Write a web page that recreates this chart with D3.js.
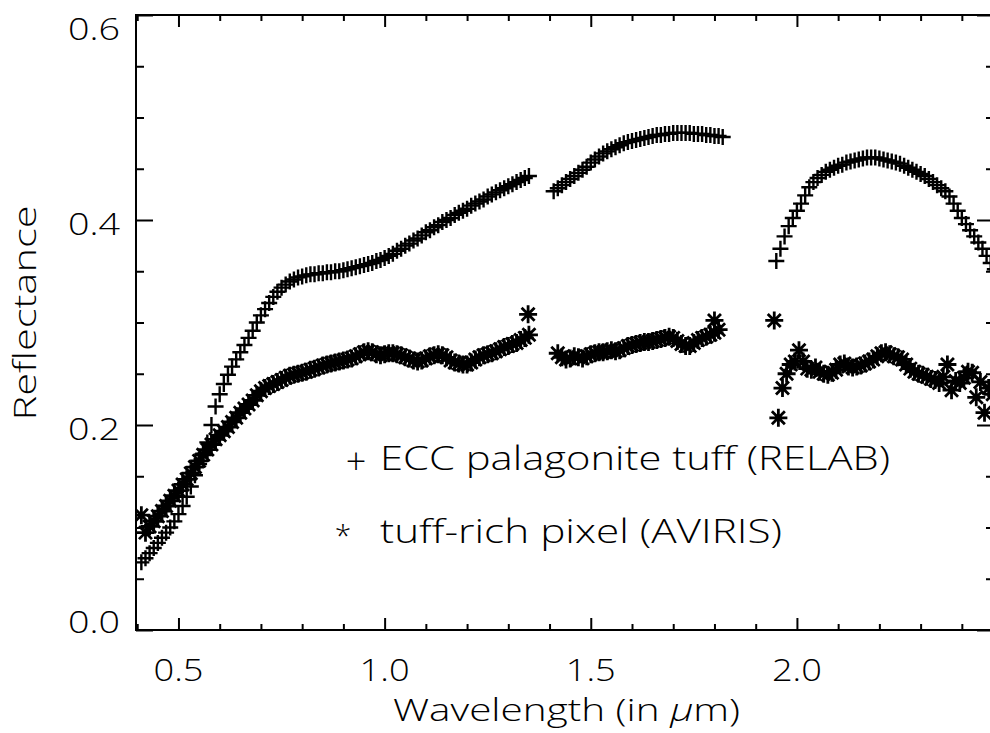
<!DOCTYPE html>
<html><head><meta charset="utf-8">
<script src="https://cdn.jsdelivr.net/npm/d3@7"></script>
<style>
body{margin:0;background:#fff}
svg{display:block}
text{font-family:'Open Sans',sans-serif;font-weight:300;fill:#000}
</style>
</head><body>
<svg id="c" width="990" height="733"></svg>
<script>
// ---- data (wavelength in µm, reflectance) ----
const relab1 = [[0.41,.066],[0.42,.070],[0.43,.075],[0.44,.080],[0.45,.085],[0.46,.090],[0.47,.095],[0.48,.100],[0.49,.106],[0.50,.113],[0.51,.121],[0.52,.130],[0.53,.140],[0.54,.151],[0.55,.162],[0.56,.172],[0.57,.183],[0.58,.200],[0.59,.218],[0.60,.230],[0.61,.240],[0.62,.249],[0.63,.257],[0.64,.264],[0.65,.271],[0.66,.278],[0.67,.285],[0.68,.292],[0.69,.300],[0.70,.307],[0.71,.313],[0.72,.319],[0.73,.325],[0.74,.330],[0.75,.334],[0.76,.337],[0.77,.340],[0.78,.342],[0.79,.344],[0.80,.345],[0.81,.346],[0.82,.347],[0.83,.347],[0.84,.348],[0.85,.348],[0.86,.349],[0.87,.349],[0.88,.350],[0.89,.350],[0.90,.351],[0.91,.352],[0.92,.353],[0.93,.354],[0.94,.355],[0.95,.356],[0.96,.357],[0.97,.358],[0.98,.360],[0.99,.361],[1.00,.363],[1.01,.365],[1.02,.367],[1.03,.370],[1.04,.372],[1.05,.375],[1.06,.377],[1.07,.380],[1.08,.382],[1.09,.385],[1.10,.388],[1.11,.390],[1.12,.393],[1.13,.395],[1.14,.398],[1.15,.400],[1.16,.402],[1.17,.405],[1.18,.407],[1.19,.409],[1.20,.411],[1.21,.414],[1.22,.416],[1.23,.418],[1.24,.420],[1.25,.423],[1.26,.425],[1.27,.427],[1.28,.429],[1.29,.431],[1.30,.433],[1.31,.435],[1.32,.437],[1.33,.439],[1.34,.441],[1.35,.443]];
const relab2 = [[1.41,.428],[1.42,.431],[1.43,.434],[1.44,.437],[1.45,.440],[1.46,.443],[1.47,.446],[1.48,.449],[1.49,.452],[1.50,.456],[1.51,.459],[1.52,.462],[1.53,.465],[1.54,.467],[1.55,.469],[1.56,.471],[1.57,.473],[1.58,.475],[1.59,.476],[1.60,.477],[1.61,.478],[1.62,.479],[1.63,.480],[1.64,.481],[1.65,.482],[1.66,.483],[1.67,.483],[1.68,.484],[1.69,.484],[1.70,.485],[1.71,.485],[1.72,.485],[1.73,.485],[1.74,.485],[1.75,.484],[1.76,.484],[1.77,.484],[1.78,.483],[1.79,.483],[1.80,.482],[1.81,.482],[1.82,.481]];
const relab3 = [[1.95,.360],[1.96,.372],[1.97,.384],[1.98,.394],[1.99,.402],[2.00,.409],[2.01,.416],[2.02,.424],[2.03,.432],[2.04,.437],[2.05,.441],[2.06,.444],[2.07,.447],[2.08,.449],[2.09,.451],[2.10,.453],[2.11,.454],[2.12,.456],[2.13,.457],[2.14,.458],[2.15,.459],[2.16,.460],[2.17,.461],[2.18,.461],[2.19,.461],[2.20,.460],[2.21,.459],[2.22,.458],[2.23,.457],[2.24,.456],[2.25,.455],[2.26,.453],[2.27,.451],[2.28,.449],[2.29,.447],[2.30,.445],[2.31,.443],[2.32,.440],[2.33,.437],[2.34,.434],[2.35,.431],[2.36,.428],[2.37,.423],[2.38,.416],[2.39,.409],[2.40,.402],[2.41,.396],[2.42,.390],[2.43,.384],[2.44,.378],[2.45,.372],[2.46,.365],[2.47,.358],[2.48,.352]];
const aviris1 = [[0.41,.112],[0.42,.095],[0.43,.101],[0.44,.106],[0.45,.111],[0.46,.116],[0.47,.121],[0.48,.126],[0.49,.131],[0.50,.136],[0.51,.142],[0.52,.147],[0.53,.153],[0.54,.159],[0.55,.165],[0.56,.171],[0.57,.176],[0.58,.181],[0.59,.186],[0.60,.190],[0.61,.194],[0.62,.198],[0.63,.203],[0.64,.207],[0.65,.212],[0.66,.216],[0.67,.220],[0.68,.224],[0.69,.229],[0.70,.233],[0.71,.236],[0.72,.238],[0.73,.240],[0.74,.242],[0.75,.244],[0.76,.246],[0.77,.248],[0.78,.249],[0.79,.250],[0.80,.251],[0.81,.252],[0.82,.254],[0.83,.255],[0.84,.256],[0.85,.258],[0.86,.259],[0.87,.260],[0.88,.261],[0.89,.262],[0.90,.263],[0.91,.264],[0.92,.265],[0.93,.267],[0.94,.269],[0.95,.271],[0.96,.272],[0.97,.271],[0.98,.269],[0.99,.268],[1.00,.269],[1.01,.270],[1.02,.270],[1.03,.269],[1.04,.268],[1.05,.266],[1.06,.265],[1.07,.263],[1.08,.262],[1.09,.263],[1.10,.265],[1.11,.267],[1.12,.268],[1.13,.269],[1.14,.268],[1.15,.266],[1.16,.263],[1.17,.261],[1.18,.260],[1.19,.259],[1.20,.259],[1.21,.261],[1.22,.264],[1.23,.266],[1.24,.268],[1.25,.269],[1.26,.270],[1.27,.272],[1.28,.274],[1.29,.276],[1.30,.277],[1.31,.279],[1.32,.280],[1.33,.283],[1.34,.285],[1.35,.288],[1.348,.308]];
const aviris2 = [[1.42,.270],[1.43,.266],[1.44,.264],[1.45,.265],[1.46,.267],[1.47,.266],[1.48,.265],[1.49,.267],[1.50,.269],[1.51,.270],[1.52,.271],[1.53,.271],[1.54,.272],[1.55,.273],[1.56,.272],[1.57,.273],[1.58,.275],[1.59,.277],[1.60,.278],[1.61,.279],[1.62,.280],[1.63,.281],[1.64,.281],[1.65,.282],[1.66,.283],[1.67,.284],[1.68,.285],[1.69,.286],[1.70,.285],[1.71,.282],[1.72,.279],[1.73,.277],[1.74,.277],[1.75,.280],[1.76,.283],[1.77,.285],[1.78,.286],[1.79,.288],[1.80,.290],[1.81,.293],[1.80,.302]];
const aviris3 = [[1.945,.302],[1.955,.207],[1.965,.236],[1.975,.250],[1.985,.259],[1.995,.262],[2.005,.273],[2.015,.262],[2.025,.255],[2.035,.254],[2.045,.256],[2.055,.252],[2.065,.250],[2.075,.249],[2.085,.251],[2.095,.254],[2.105,.259],[2.115,.260],[2.125,.257],[2.135,.256],[2.145,.257],[2.155,.258],[2.165,.260],[2.175,.262],[2.185,.264],[2.195,.267],[2.205,.270],[2.215,.271],[2.225,.269],[2.235,.267],[2.245,.266],[2.255,.264],[2.265,.259],[2.275,.255],[2.285,.252],[2.295,.250],[2.305,.249],[2.315,.247],[2.325,.245],[2.335,.244],[2.345,.241],[2.355,.247],[2.365,.259],[2.375,.234],[2.385,.243],[2.395,.241],[2.405,.246],[2.415,.252],[2.425,.251],[2.435,.227],[2.445,.242],[2.455,.212],[2.465,.236],[2.475,.230]];

const xMajor = [0.5, 1.0, 1.5, 2.0];
const xMinor = [0.4,0.6,0.7,0.8,0.9,1.1,1.2,1.3,1.4,1.6,1.7,1.8,1.9,2.1,2.2,2.3,2.4];
const xLabels = ["0.5","1.0","1.5","2.0"];
const yMajor = [0.0, 0.2, 0.4, 0.6];
const yMinor = [0.05,0.1,0.15,0.25,0.3,0.35,0.45,0.5,0.55];
const yLabels = ["0.0","0.2","0.4","0.6"];
const legendLabels = ["ECC palagonite tuff (RELAB)", "tuff-rich pixel (AVIRIS)"];

// ---- layout ----
const L = 136, R = 994, T = 15, B = 630;
const svg = d3.select("#c");
const x = d3.scaleLinear().domain([0.397, 2.478]).range([L, R]);
const y = d3.scaleLinear().domain([0, 0.6]).range([B, T]);

svg.append("defs").append("clipPath").attr("id","clip")
  .append("rect").attr("x",L).attr("y",T).attr("width",R-L).attr("height",B-T);

// axes ticks (inward)
function styleAxis(g){ g.select(".domain").remove(); g.selectAll("line").attr("stroke","#000").attr("stroke-width",2); g.selectAll("text").remove(); }
svg.append("g").attr("transform",`translate(0,${B})`).call(d3.axisBottom(x).tickValues(xMajor).tickSize(-12)).call(styleAxis);
svg.append("g").attr("transform",`translate(0,${B})`).call(d3.axisBottom(x).tickValues(xMinor).tickSize(-6)).call(styleAxis);
svg.append("g").attr("transform",`translate(0,${T})`).call(d3.axisTop(x).tickValues(xMajor).tickSize(-12)).call(styleAxis);
svg.append("g").attr("transform",`translate(0,${T})`).call(d3.axisTop(x).tickValues(xMinor).tickSize(-6)).call(styleAxis);
svg.append("g").attr("transform",`translate(${L},0)`).call(d3.axisLeft(y).tickValues(yMajor).tickSize(-17)).call(styleAxis);
svg.append("g").attr("transform",`translate(${L},0)`).call(d3.axisLeft(y).tickValues(yMinor).tickSize(-8)).call(styleAxis);
svg.append("g").attr("transform",`translate(${R},0)`).call(d3.axisRight(y).tickValues(yMajor).tickSize(-17)).call(styleAxis);
svg.append("g").attr("transform",`translate(${R},0)`).call(d3.axisRight(y).tickValues(yMinor).tickSize(-8)).call(styleAxis);

svg.append("rect").attr("x",L).attr("y",T).attr("width",R-L).attr("height",B-T)
  .attr("fill","none").attr("stroke","#000").attr("stroke-width",2);

// tick labels
svg.append("g").selectAll("text").data(xMajor).join("text")
  .attr("x", d=>x(d)).attr("y", B+51).attr("text-anchor","middle")
  .attr("font-size",31).attr("textLength",50).attr("lengthAdjust","spacingAndGlyphs")
  .text((d,i)=>xLabels[i]);
svg.append("g").selectAll("text").data(yMajor).join("text")
  .attr("x", L-16).attr("y", d=>Math.max(40, Math.min(633, y(d)+15))).attr("text-anchor","end")
  .attr("font-size",31).attr("textLength",52).attr("lengthAdjust","spacingAndGlyphs")
  .text((d,i)=>yLabels[i]);

// axis titles
const xt = svg.append("text").attr("x",393).attr("y",721).attr("font-size",32)
  .attr("textLength",347).attr("lengthAdjust","spacingAndGlyphs");
xt.append("tspan").text("Wavelength (in ");
xt.append("tspan").attr("font-style","italic").text("μ");
xt.append("tspan").text("m)");
svg.append("text").attr("transform","translate(36,313) rotate(-90)").attr("text-anchor","middle")
  .attr("font-size",32).attr("textLength",215).attr("lengthAdjust","spacingAndGlyphs").text("Reflectance");

// markers
const plusPath = "M-8,0H8M0,-8V8";
const starPath = "M-9,0H9M0,-9V9M-6.5,-6.5L6.5,6.5M-6.5,6.5L6.5,-6.5";
const plot = svg.append("g").attr("clip-path","url(#clip)");
function drawSeries(data, path, sw){
  plot.append("g").selectAll("path").data(data).join("path")
    .attr("transform", d=>`translate(${x(d[0])},${y(d[1])})`)
    .attr("d", path).attr("fill","none").attr("stroke","#000").attr("stroke-width",sw);
}
[relab1, relab2, relab3].forEach(s=>drawSeries(s, plusPath, 2.4));
[aviris1, aviris2, aviris3].forEach(s=>drawSeries(s, starPath, 2.8));

// legend
svg.append("text").attr("x",356).attr("y",474).attr("text-anchor","middle").attr("font-size",36).text("+");
svg.append("text").attr("x",343).attr("y",546).attr("text-anchor","middle").attr("font-size",30).text("*");
svg.append("text").attr("x",380).attr("y",470).attr("font-size",33)
  .attr("textLength",510).attr("lengthAdjust","spacingAndGlyphs").text(legendLabels[0]);
svg.append("text").attr("x",380).attr("y",543).attr("font-size",33)
  .attr("textLength",402).attr("lengthAdjust","spacingAndGlyphs").text(legendLabels[1]);
</script>
</body></html>
